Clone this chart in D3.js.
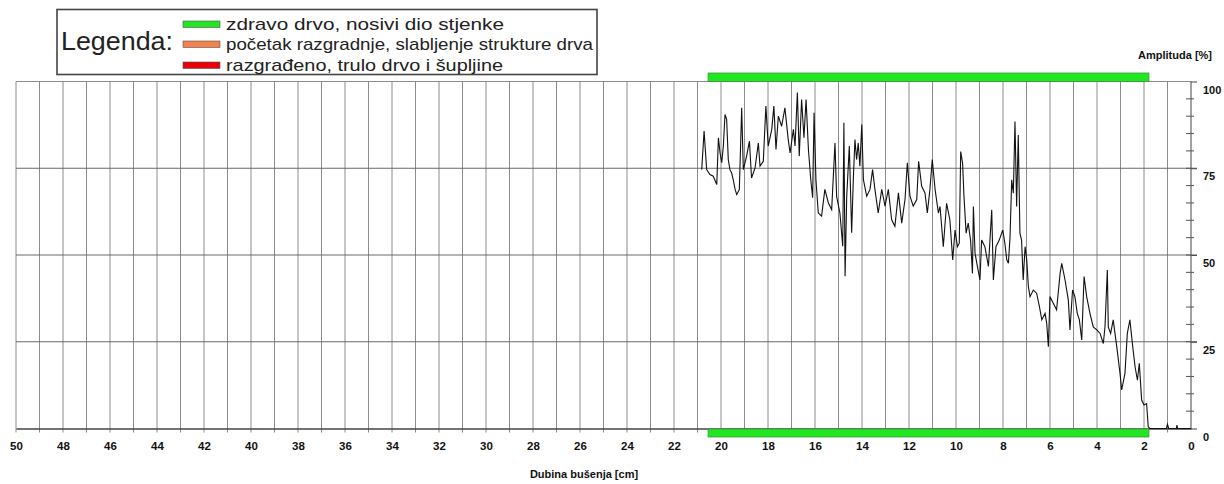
<!DOCTYPE html>
<html><head><meta charset="utf-8">
<script src="https://cdn.jsdelivr.net/npm/d3@7"></script>
<style>html,body{margin:0;padding:0;background:#fff}svg{display:block}</style>
</head><body>
<svg id="chart" width="1224" height="484"></svg>
<script>
// ---- data ----
const depthCm = [20.82,20.72,20.61,20.47,20.33,20.18,20.11,20.04,19.97,19.90,19.83,19.76,19.69,19.62,19.55,19.48,19.40,19.33,19.22,19.12,19.05,18.91,18.79,18.70,18.55,18.41,18.34,18.20,18.09,17.99,17.84,17.75,17.66,17.56,17.42,17.28,17.14,17.06,16.92,16.85,16.75,16.67,16.57,16.47,16.38,16.28,16.18,16.10,16.04,15.96,15.86,15.72,15.58,15.43,15.29,15.15,15.08,14.94,14.82,14.77,14.72,14.65,14.54,14.44,14.37,14.30,14.23,14.16,14.09,14.01,13.94,13.80,13.66,13.55,13.45,13.31,13.16,13.02,12.88,12.74,12.60,12.45,12.31,12.17,12.07,11.96,11.82,11.67,11.59,11.46,11.32,11.22,11.11,11.01,10.89,10.75,
 10.68,10.54,10.40,10.26,10.14,10.04,9.94,9.86,9.80,9.72,9.66,9.57,9.48,9.38,9.30,9.26,9.19,9.09,8.98,8.91,8.77,8.62,8.48,8.41,8.30,8.16,8.01,7.92,7.84,7.77,7.70,7.63,7.56,7.49,7.42,7.35,7.28,7.21,7.14,7.06,6.99,6.92,6.85,6.71,6.57,6.45,6.35,6.21,6.14,6.07,6.00,5.86,5.72,5.57,5.50,5.36,5.22,5.15,5.04,4.94,4.84,4.75,4.65,4.55,4.44,4.30,4.16,4.01,3.87,3.73,3.66,3.56,3.52,3.42,3.31,3.16,3.02,2.95,2.81,2.71,2.60,2.48,2.38,2.28,2.20,2.10,2.00,1.89,1.82,
 1.75,1.05,1.00,0.95,0.62,0.60,0.57,0.00];
const amplitude = [74.6,85.7,74.6,73.2,72.7,70.3,83.8,79.4,76.6,81.4,90.5,89.1,77.5,74.6,73.7,71.7,68.9,67.4,68.9,92.4,74.6,78.5,82.8,72.2,75.1,82.3,75.6,77.0,92.9,81.4,86.2,92.9,80.4,90.0,87.1,92.4,83.3,79.4,86.2,81.4,96.8,78.5,94.8,83.8,94.8,80.4,71.7,66.5,91.0,71.7,62.1,61.2,68.9,65.0,63.1,82.3,66.9,62.1,52.5,88.1,43.9,66.9,81.4,56.4,71.7,83.3,77.5,82.3,75.6,87.6,71.7,66.9,68.9,74.6,68.9,62.1,68.9,64.1,68.9,60.2,58.3,67.9,59.2,66.0,76.6,67.0,64.1,66.0,77.0,69.8,67.9,62.1,68.9,77.5,68.9,62.1,
 64.0,52.4,64.9,60.1,48.6,57.2,52.4,53.4,79.8,76.5,66.8,56.3,59.2,54.3,44.7,64.0,50.5,46.7,42.8,54.3,52.4,46.7,63.0,42.8,52.4,54.3,57.2,53.4,48.6,47.6,55.3,71.7,67.8,88.5,64.0,84.6,56.3,54.3,42.8,52.4,48.6,40.9,38.0,39.9,39.0,35.1,31.3,33.2,30.3,23.6,38.0,36.1,34.2,44.7,47.6,42.8,37.0,28.4,39.9,38.0,33.2,31.3,25.5,43.8,38.0,33.2,29.3,28.4,27.4,24.5,29.3,45.7,29.3,27.4,31.3,23.6,15.9,11.1,15.9,27.4,31.3,23.6,17.8,13.9,18.8,8.2,6.8,7.2,0.5,
 0.0,0.0,1.2,0.0,0.0,1.0,0.0,0.0];
const xTickLabels = [50,48,46,44,42,40,38,36,34,32,30,28,26,24,22,20,18,16,14,12,10,8,6,4,2,0];
const yTickLabels = [0,25,50,75,100];
const zoneStart = [20.55];
const zoneEnd = [1.79];
const legendLabels = ["zdravo drvo, nosivi dio stjenke","početak razgradnje, slabljenje strukture drva","razgrađeno, trulo drvo i šupljine"];
const legendColors = ["#22e622","#f2824e","#e60008"];

// ---- chart ----
const svg = d3.select("#chart");
const x = d3.scaleLinear().domain([50,0]).range([16,1191]);
const y = d3.scaleLinear().domain([0,100]).range([428.5,81.5]);
const font = "'Liberation Sans', Arial, sans-serif";

// vertical grid (every cm)
const cmLines = d3.range(50, 0, -1);
svg.append("g").selectAll("line").data(cmLines).join("line")
  .attr("x1", d => x(d)).attr("x2", d => x(d))
  .attr("y1", y(100)).attr("y2", y(0) + 4)
  .attr("stroke", "#8c8c8c").attr("stroke-width", 1);

// horizontal grid
svg.append("g").selectAll("line").data([25,50,75]).join("line")
  .attr("x1", x(50)).attr("x2", x(0))
  .attr("y1", d => y(d)).attr("y2", d => y(d))
  .attr("stroke", "#6a6a6a").attr("stroke-width", 1);
// top border
svg.append("line").attr("x1", x(50)).attr("x2", x(0)).attr("y1", y(100)).attr("y2", y(100))
  .attr("stroke", "#8c8c8c");

// bottom axis (x)
const xAxis = d3.axisBottom(x).tickValues(xTickLabels).tickSize(0).tickPadding(13);
const gx = svg.append("g").attr("transform", `translate(0,${y(0)})`).call(xAxis);
gx.select(".domain").attr("stroke", "#444").attr("stroke-width", 1.3);
gx.selectAll("text").attr("font-family", font).attr("font-weight", "bold").attr("font-size", 11.5).attr("fill", "#111");

// right axis (y)
const yAxis = d3.axisRight(y).tickValues(yTickLabels).tickSize(6).tickPadding(6);
const gy = svg.append("g").attr("transform", `translate(${x(0)},0)`).call(yAxis);
gy.select(".domain").attr("stroke", "#444").attr("d", `M0,${y(100)}V${y(0)}`);
gy.selectAll(".tick line").attr("stroke", "#444");
gy.selectAll("text").attr("font-family", font).attr("font-weight", "bold").attr("font-size", 11)
  .attr("fill", "#111").attr("dy", "1.05em");
// minor ticks every 5
svg.append("g").selectAll("line").data(d3.range(5,100,5).filter(v => v % 25 !== 0)).join("line")
  .attr("x1", x(0) - 5).attr("x2", x(0) + 3)
  .attr("y1", d => y(d)).attr("y2", d => y(d)).attr("stroke", "#555");
svg.append("g").selectAll("line").data([25,50,75]).join("line")
  .attr("x1", x(0) - 5).attr("x2", x(0) + 6)
  .attr("y1", d => y(d)).attr("y2", d => y(d)).attr("stroke", "#555");

// zone bars (top and bottom)
svg.append("rect").attr("x", x(zoneStart[0])).attr("width", x(zoneEnd[0]) - x(zoneStart[0]))
  .attr("y", y(100) - 8.5).attr("height", 8.5).attr("fill", legendColors[0]).attr("stroke", "#3a9a3a").attr("stroke-width", 0.8);
svg.append("rect").attr("x", x(zoneStart[0])).attr("width", x(zoneEnd[0]) - x(zoneStart[0]))
  .attr("y", y(0) + 0.5).attr("height", 8).attr("fill", legendColors[0]).attr("stroke", "#3a9a3a").attr("stroke-width", 0.8);

// data line
const pts = depthCm.map((d, i) => [d, amplitude[i]]);
svg.append("path").datum(pts)
  .attr("d", d3.line().x(d => x(d[0])).y(d => y(d[1])))
  .attr("fill", "none").attr("stroke", "#111").attr("stroke-width", 1.1);

// axis titles
svg.append("text").attr("x", 584).attr("y", 478).attr("text-anchor", "middle")
  .attr("font-family", font).attr("font-weight", "bold").attr("font-size", 11).attr("fill", "#111")
  .text("Dubina bušenja [cm]");
svg.append("text").attr("x", 1212).attr("y", 59).attr("text-anchor", "end")
  .attr("font-family", font).attr("font-weight", "bold").attr("font-size", 11).attr("fill", "#111")
  .text("Amplituda [%]");

// legend
const lg = svg.append("g");
lg.append("rect").attr("x", 57).attr("y", 9.5).attr("width", 540).attr("height", 65)
  .attr("fill", "#fff").attr("stroke", "#444").attr("stroke-width", 1.6);
lg.append("text").attr("x", 61).attr("y", 50).attr("font-family", font).attr("font-size", 25)
  .attr("textLength", 112).attr("lengthAdjust", "spacingAndGlyphs").attr("fill", "#222").text("Legenda:");
const rowY = [21, 41, 62];
const textW = [278, 367, 277];
legendLabels.forEach((t, i) => {
  lg.append("rect").attr("x", 183).attr("y", rowY[i]).attr("width", 37).attr("height", 6.5)
    .attr("fill", legendColors[i]).attr("stroke", "#555").attr("stroke-width", 0.6);
  lg.append("text").attr("x", 226).attr("y", rowY[i] + 9).attr("font-family", font).attr("font-size", 17)
    .attr("textLength", textW[i]).attr("lengthAdjust", "spacingAndGlyphs").attr("fill", "#222").text(t);
});
</script>
</body></html>
